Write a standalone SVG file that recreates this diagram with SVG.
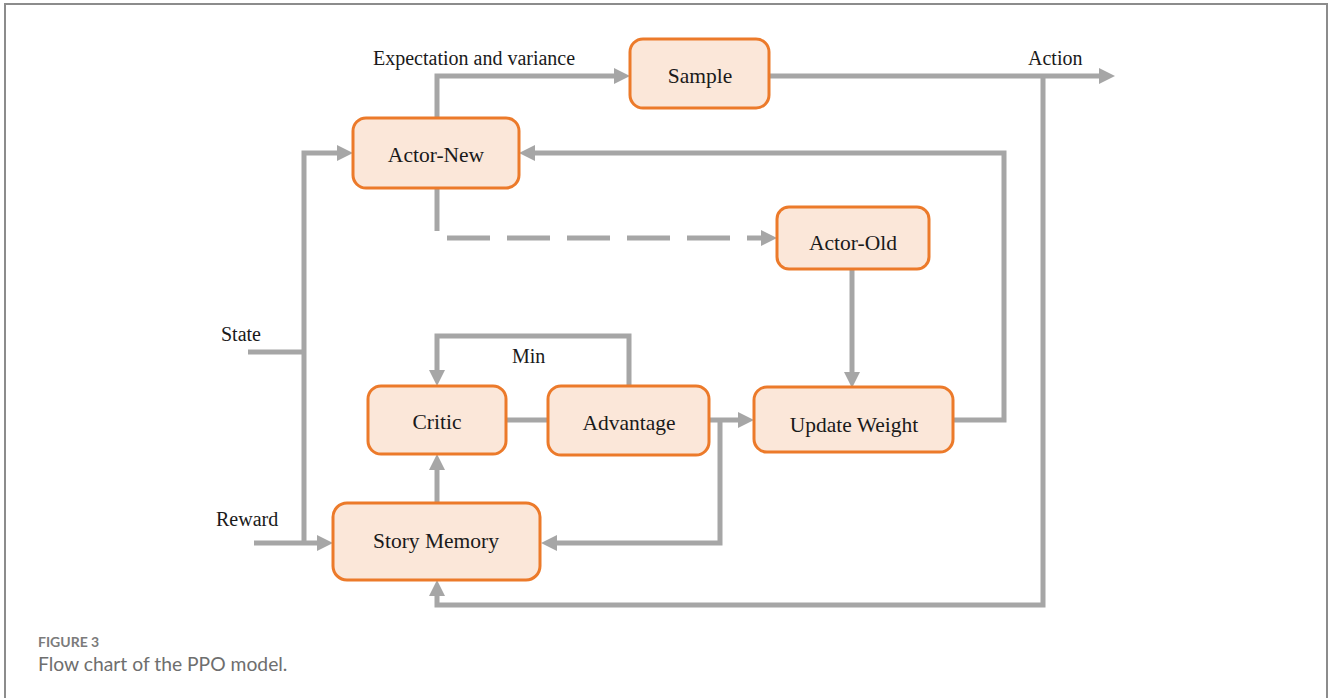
<svg xmlns="http://www.w3.org/2000/svg" width="1331" height="698" viewBox="0 0 1331 698">
  <style>
    .node rect { fill: #fbe7d9; stroke: #ec7a2a; stroke-width: 3; }
    .node text { font-family: "Liberation Serif", "Times New Roman", serif; font-size: 21.5px; fill: #1a1a1a; text-anchor: middle; }
    .lbl { font-family: "Liberation Serif", "Times New Roman", serif; font-size: 20px; fill: #1a1a1a; }
    .wire { fill: none; stroke: #a6a6a6; stroke-width: 5; stroke-linejoin: miter; stroke-linecap: butt; }
    .arrow { marker-end: url(#head); }
    .dash { stroke-dasharray: 43 17; }
    .cap1 { font-family: Lato, "Open Sans", sans-serif; font-size: 14px; font-weight: bold; fill: #7b7b7b; }
    .cap2 { font-family: Lato, "Open Sans", sans-serif; font-size: 19.3px; fill: #6e6e6e; }
  </style>
  <defs>
    <marker id="head" markerUnits="userSpaceOnUse" markerWidth="16" markerHeight="16" viewBox="0 0 16 16" refX="8" refY="8" orient="auto">
      <path d="M0,0 L16,8 L0,16 Z" fill="#a6a6a6"/>
    </marker>
  </defs>

  <!-- figure frame -->
  <rect x="5" y="4" width="1322" height="702" fill="#ffffff" stroke="#8c8c8c" stroke-width="2"/>

  <!-- connectors -->
  <g id="connectors">
    <path class="wire arrow" d="M437,118 V76 H622"/>
    <path class="wire arrow" d="M769,76 H1107"/>
    <path class="wire arrow" d="M1043,76 V605 H437 V588"/>
    <path class="wire arrow" d="M953,420 H1004 V153 H527"/>
    <path class="wire" d="M437,188 V231"/>
    <path class="wire dash arrow" d="M447,238 H769"/>
    <path class="wire arrow" d="M852,269 V380"/>
    <path class="wire" d="M248,352 H304"/>
    <path class="wire arrow" d="M304,543 V153 H345"/>
    <path class="wire arrow" d="M254,543 H325"/>
    <path class="wire arrow" d="M437,503 V462"/>
    <path class="wire" d="M506,420 H548"/>
    <path class="wire arrow" d="M629,386 V336 H437 V378"/>
    <path class="wire arrow" d="M709,420 H746"/>
    <path class="wire arrow" d="M720,420 V543 H549"/>
  </g>

  <!-- nodes -->
  <g id="actor-new" class="node">
    <rect x="353" y="118" width="166" height="70" rx="13"/>
    <text x="436" y="162">Actor-New</text>
  </g>
  <g id="sample" class="node">
    <rect x="630" y="39" width="139" height="69" rx="13"/>
    <text x="700" y="83">Sample</text>
  </g>
  <g id="actor-old" class="node">
    <rect x="777" y="207" width="152" height="62" rx="12"/>
    <text x="853" y="250">Actor-Old</text>
  </g>
  <g id="critic" class="node">
    <rect x="368" y="386" width="138" height="68" rx="13"/>
    <text x="437" y="429">Critic</text>
  </g>
  <g id="advantage" class="node">
    <rect x="548" y="386" width="161" height="69" rx="13"/>
    <text x="629" y="430">Advantage</text>
  </g>
  <g id="update-weight" class="node">
    <rect x="754" y="387" width="199" height="65" rx="13"/>
    <text x="854" y="432">Update Weight</text>
  </g>
  <g id="story-memory" class="node">
    <rect x="333" y="503" width="207" height="77" rx="14"/>
    <text x="436" y="548">Story Memory</text>
  </g>

  <!-- edge labels -->
  <g id="labels">
    <text class="lbl" x="373" y="65">Expectation and variance</text>
    <text class="lbl" x="1028" y="65">Action</text>
    <text class="lbl" x="221" y="341">State</text>
    <text class="lbl" x="216" y="526">Reward</text>
    <text class="lbl" x="512" y="363">Min</text>
  </g>

  <!-- caption -->
  <g id="caption">
    <text class="cap1" x="38" y="647">FIGURE 3</text>
    <text class="cap2" x="38" y="671">Flow chart of the PPO model.</text>
  </g>
</svg>
